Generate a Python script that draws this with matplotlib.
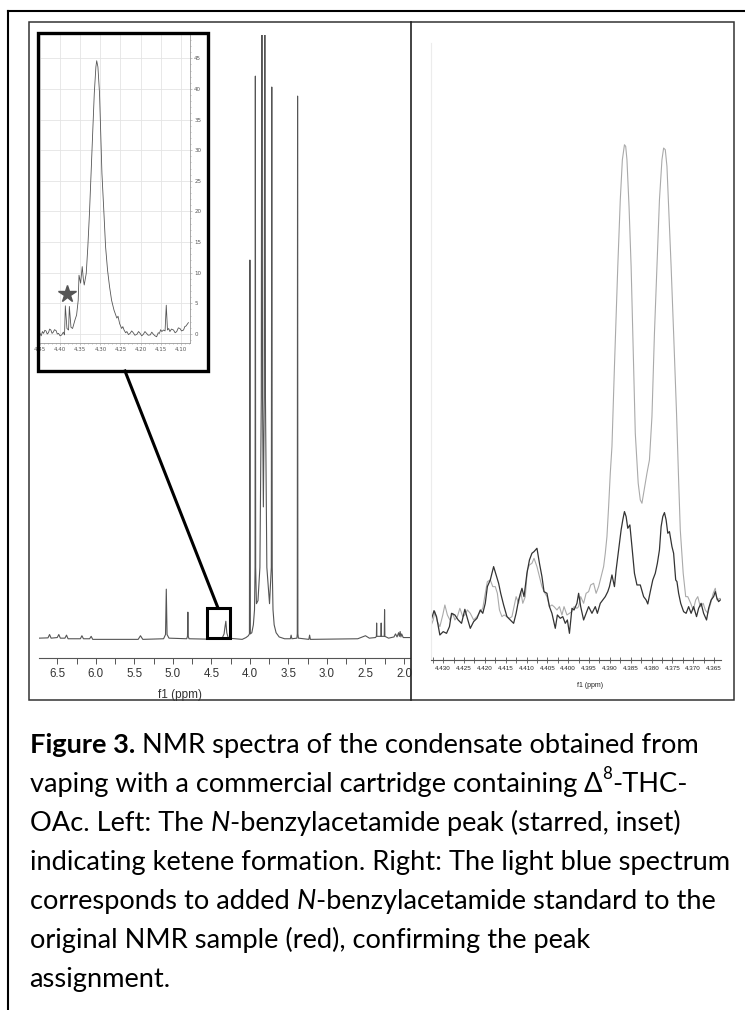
import matplotlib
matplotlib.use("Agg")
import matplotlib.pyplot as plt
from matplotlib.lines import Line2D
from matplotlib.patches import Rectangle
from matplotlib.ticker import MultipleLocator, FormatStrFormatter, FixedLocator

# ---- left panel: full 1H spectrum, vertices (ppm, rel. intensity)
main_ppm = [6.737, 6.62, 6.60, 6.58, 6.50, 6.48, 6.46, 6.40, 6.38, 6.36, 6.20, 6.18, 6.16,
            6.08, 6.06, 6.04, 5.60, 5.45, 5.42, 5.39, 5.12, 5.095, 5.085, 5.075, 5.05,
            4.82, 4.81, 4.805, 4.80, 4.79, 4.40, 4.36, 4.335, 4.325, 4.312, 4.30, 4.28,
            4.10, 4.05, 4.02, 4.006, 4.000, 3.994, 3.975, 3.955, 3.940, 3.933, 3.929,
            3.925, 3.915, 3.895, 3.870, 3.852, 3.844, 3.836, 3.825, 3.814, 3.806, 3.798,
            3.780, 3.745, 3.722, 3.716, 3.710, 3.700, 3.685, 3.660, 3.620, 3.55, 3.475,
            3.465, 3.455, 3.39, 3.385, 3.381, 3.377, 3.37, 3.235, 3.225, 3.215, 2.60,
            2.50, 2.45, 2.37, 2.358, 2.355, 2.352, 2.299, 2.296, 2.293, 2.256, 2.252,
            2.248, 2.20, 2.13, 2.11, 2.09, 2.07, 2.06, 2.05, 2.04, 2.03, 2.01, 1.922]
main_int = [0.3, 0.35, 0.9, 0.3, 0.4, 0.9, 0.3, 0.3, 0.8, 0.2, 0.2, 0.7, 0.2,
            0.2, 0.6, 0.1, 0.1, 0.1, 0.7, 0.1, 0.2, 0.9, 8.4, 0.9, 0.3,
            0.2, 0.6, 4.6, 0.6, 0.2, 0.1, 0.3, 1.0, 2.0, 3.1, 1.2, 0.3,
            0.1, 0.4, 0.7, 1.0, 62.8, 1.0, 1.2, 2.5, 5.0, 12.0, 93.2,
            12.0, 6.0, 6.5, 12.0, 40.0, 130.0, 40.0, 22.0, 40.0, 130.0, 40.0,
            12.0, 6.0, 12.0, 91.4, 12.0, 5.0, 2.5, 1.2, 0.5, 0.2, 0.2,
            0.8, 0.2, 0.3, 1.0, 89.9, 1.0, 0.3, 0.1, 0.8, 0.1, 0.2,
            0.7, 0.3, 0.4, 0.6, 2.8, 0.6, 0.6, 2.8, 0.6, 0.6, 5.0,
            0.6, 0.3, 0.5, 1.0, 0.5, 1.2, 0.6, 1.4, 0.5, 1.0, 0.4, 0.4]
main_ticks = [6.5, 6.0, 5.5, 5.0, 4.5, 4.0, 3.5, 3.0, 2.5, 2.0]

# ---- inset: 4.45-4.08 ppm region
inset_ppm = [4.450, 4.447, 4.444, 4.441, 4.438, 4.435, 4.432, 4.429, 4.426, 4.423, 4.420,
             4.417, 4.414, 4.410, 4.407, 4.404, 4.400, 4.396, 4.392, 4.389, 4.387, 4.383,
             4.379, 4.377, 4.373, 4.369, 4.366, 4.363, 4.359, 4.355, 4.353, 4.349, 4.345,
             4.342, 4.340, 4.335, 4.331, 4.327, 4.323, 4.319, 4.315, 4.311, 4.309, 4.306,
             4.302, 4.299, 4.296, 4.291, 4.287, 4.282, 4.277, 4.272, 4.266, 4.259, 4.256,
             4.252, 4.247, 4.244, 4.241, 4.237, 4.234, 4.230, 4.226, 4.222, 4.218, 4.214,
             4.209, 4.205, 4.201, 4.197, 4.193, 4.189, 4.185, 4.181, 4.176, 4.172, 4.168,
             4.164, 4.160, 4.156, 4.153, 4.150, 4.147, 4.143, 4.139, 4.136, 4.133, 4.130,
             4.127, 4.123, 4.118, 4.114, 4.110, 4.106, 4.102, 4.098, 4.093, 4.090, 4.087,
             4.081]
inset_int = [0.1, -0.3, 0.4, 0.1, 0.6, 0.5, 0.0, 0.2, 0.8, 0.65, 0.1,
             0.3, 0.7, 0.55, 0.0, 0.1, -0.3, -0.15, 0.3, -0.15, 4.6, 0.9,
             0.65, 4.5, 1.1, 0.9, 1.6, 2.3, 3.1, 5.5, 9.6, 8.3, 11.0,
             8.8, 8.0, 9.9, 14.3, 19.7, 26.2, 32.8, 39.3, 43.6, 44.6, 43.6,
             39.3, 32.8, 26.2, 19.7, 14.3, 10.4, 7.7, 5.5, 3.9, 2.6, 2.9,
             1.7, 0.9, 1.2, 0.65, 0.2, 0.4, -0.1, 0.1, 0.5, 0.2, -0.2,
             -0.05, 0.4, 0.1, -0.3, -0.05, 0.4, 0.1, -0.2, -0.15, 0.3, -0.05,
             -0.3, -0.45, 0.2, 0.1, 0.7, 0.4, 0.65, 0.5, 4.7, 0.65, 0.9,
             0.4, 0.8, 0.65, 0.2, 0.4, 1.0, 0.9, 0.5, 0.65, 1.2, 1.3,
             1.85]
inset_xticks = [4.45, 4.40, 4.35, 4.30, 4.25, 4.20, 4.15, 4.10]
inset_yticks = [0, 5, 10, 15, 20, 25, 30, 35, 40, 45]
star_ppm, star_int = 4.383, 6.6

# ---- right panel: original sample (dark) and with added standard (light)
orig_ppm = [4.4330, 4.4322, 4.4316, 4.4308, 4.4300, 4.4292, 4.4285, 4.4280, 4.4272, 4.4264,
            4.4256, 4.4248, 4.4242, 4.4235, 4.4227, 4.4219, 4.4211, 4.4205, 4.4199, 4.4194,
            4.4187, 4.4179, 4.4173, 4.4167, 4.4162, 4.4155, 4.4147, 4.4139, 4.4131, 4.4125,
            4.4119, 4.4111, 4.4106, 4.4099, 4.4093, 4.4087, 4.4082, 4.4075, 4.4069, 4.4063,
            4.4058, 4.4051, 4.4045, 4.4039, 4.4031, 4.4026, 4.4019, 4.4013, 4.4007, 4.4002,
            4.3997, 4.3991, 4.3986, 4.3979, 4.3975, 4.3970, 4.3963, 4.3957, 4.3951, 4.3943,
            4.3935, 4.3930, 4.3923, 4.3917, 4.3911, 4.3905, 4.3901, 4.3895, 4.3889, 4.3885,
            4.3879, 4.3873, 4.3869, 4.3865, 4.3861, 4.3857, 4.3852, 4.3847, 4.3841, 4.3835,
            4.3827, 4.3819, 4.3813, 4.3809, 4.3803, 4.3797, 4.3791, 4.3786, 4.3781, 4.3777,
            4.3773, 4.3769, 4.3765, 4.3761, 4.3757, 4.3751, 4.3747, 4.3742, 4.3739, 4.3735,
            4.3730, 4.3723, 4.3717, 4.3711, 4.3705, 4.3699, 4.3692, 4.3687, 4.3681, 4.3675,
            4.3668, 4.3663, 4.3657, 4.3651, 4.3647, 4.3643, 4.3639, 4.3635]
orig_int = [-2.5, 0.8, -1.0, -6.5, -5.5, -6.0, -4.0, 0.0, -0.5, -2.0,
            -3.0, 1.2, -1.5, -4.5, -2.5, -1.5, 1.0, 0.0, 3.0, 8.0,
            10.0, 14.0, 11.5, 9.0, 6.0, 2.5, -1.0, -2.0, -3.0, 0.0,
            4.0, 7.5, 5.0, 12.0, 16.0, 18.0, 18.5, 19.5, 15.0, 11.0,
            6.5, 6.0, 2.0, 0.0, -4.5, -0.5, -1.5, -1.0, -3.0, -2.0,
            -6.0, 1.5, 1.0, 3.0, 6.0, 2.0, -2.0, 0.0, 2.0, 0.0,
            2.0, 0.0, 3.0, 4.0, 5.0, 6.5, 8.0, 11.5, 8.0, 13.0,
            19.0, 25.0, 28.0, 30.5, 29.0, 25.5, 26.5, 20.0, 12.0, 8.5,
            8.5, 5.0, 4.0, 2.8, 6.5, 10.0, 12.0, 15.0, 19.0, 26.0,
            29.0, 30.2, 28.0, 24.0, 24.5, 20.0, 18.0, 10.0, 9.5, 6.0,
            3.0, 0.5, 0.0, 2.0, 0.0, 2.0, -1.0, 1.5, 3.0, 0.0,
            -2.0, 1.5, 4.0, 5.0, 6.5, 4.5, 3.5, 4.0]
spiked_ppm = [4.4330, 4.4324, 4.4320, 4.4314, 4.4308, 4.4301, 4.4296, 4.4290, 4.4284, 4.4277,
              4.4272, 4.4266, 4.4260, 4.4253, 4.4248, 4.4242, 4.4235, 4.4227, 4.4219, 4.4211,
              4.4205, 4.4199, 4.4194, 4.4187, 4.4181, 4.4175, 4.4170, 4.4165, 4.4159, 4.4154,
              4.4147, 4.4141, 4.4135, 4.4130, 4.4125, 4.4119, 4.4114, 4.4109, 4.4103, 4.4098,
              4.4093, 4.4087, 4.4082, 4.4075, 4.4069, 4.4063, 4.4058, 4.4051, 4.4045, 4.4039,
              4.4034, 4.4027, 4.4021, 4.4015, 4.4010, 4.4003, 4.3997, 4.3991, 4.3986, 4.3979,
              4.3975, 4.3970, 4.3963, 4.3957, 4.3951, 4.3946, 4.3939, 4.3933, 4.3927, 4.3921,
              4.3915, 4.3911, 4.3907, 4.3903, 4.3899, 4.3895, 4.3889, 4.3881, 4.3875, 4.3870,
              4.3865, 4.3862, 4.3859, 4.3854, 4.3849, 4.3844, 4.3839, 4.3832, 4.3827, 4.3823,
              4.3819, 4.3811, 4.3805, 4.3799, 4.3793, 4.3787, 4.3781, 4.3775, 4.3771, 4.3767,
              4.3763, 4.3759, 4.3753, 4.3747, 4.3740, 4.3735, 4.3731, 4.3724, 4.3718, 4.3713,
              4.3706, 4.3700, 4.3694, 4.3689, 4.3683, 4.3676, 4.3671, 4.3665, 4.3658, 4.3652,
              4.3647, 4.3643, 4.3636, 4.3633]
spiked_int = [-4.0, -2.0, 0.5, -2.5, -4.0, -0.5, 2.5, -0.5, -2.0, 0.0,
              -2.0, -1.0, 1.5, -1.0, -0.5, 1.0, 0.0, -2.0, -1.0, 0.5,
              1.5, 6.0, 9.5, 10.0, 8.0, 8.0, 6.0, 1.0, -1.0, -0.5,
              -1.0, -1.5, -1.0, 2.0, 5.0, 3.0, 6.5, 3.0, 5.0, 13.0,
              14.5, 15.0, 16.5, 14.0, 11.0, 8.0, 6.5, 5.0, 2.0, 2.5,
              2.0, 1.0, 2.0, -0.5, 2.0, -0.5, 0.0, 0.5, 2.0, 1.5,
              2.0, 5.0, 3.0, 6.0, 6.5, 8.5, 9.0, 6.0, 8.0, 11.0,
              14.0, 18.0, 23.0, 32.0, 42.0, 50.0, 74.0, 104.0, 124.0, 136.0,
              140.5, 140.0, 136.0, 122.0, 104.0, 79.0, 54.0, 39.0, 34.0, 33.0,
              36.0, 42.0, 46.0, 59.0, 84.0, 104.0, 124.0, 136.0, 139.5, 139.0,
              134.0, 122.0, 104.0, 84.0, 60.0, 40.0, 25.0, 12.0, 5.0, 5.0,
              3.0, 1.0, 4.0, 5.0, 2.0, 3.0, 1.0, 0.0, 3.0, 6.0,
              7.5, 4.0, 4.5, 4.2]
right_ticks = [4.430, 4.425, 4.420, 4.415, 4.410, 4.405, 4.400, 4.395, 4.390,
               4.385, 4.380, 4.375, 4.370, 4.365]

caption = [
    [("Figure 3.", "bold"), (" NMR spectra of the condensate obtained from", "normal")],
    [("vaping with a commercial cartridge containing ", "normal"), ("\u0394", "normal"),
     ("8", "sup"), ("-THC-", "normal")],
    [("OAc. Left: The ", "normal"), ("N", "italic"),
     ("-benzylacetamide peak (starred, inset)", "normal")],
    [("indicating ketene formation. Right: The light blue spectrum", "normal")],
    [("corresponds to added ", "normal"), ("N", "italic"),
     ("-benzylacetamide standard to the", "normal")],
    [("original NMR sample (red), confirming the peak", "normal")],
    [("assignment.", "normal")],
]

W, H = 745, 1010
fig = plt.figure(figsize=(W / 100, H / 100), dpi=100)
TICK_FONT = ["Liberation Sans Narrow", "Liberation Sans", "DejaVu Sans"]
CAP_FONT = ["Lato", "DejaVu Sans"]


def fx(px):
    return px / W


def fy(py):
    return 1 - py / H


def pbox(x0, y0, x1, y1):
    return [fx(x0), fy(y1), fx(x1) - fx(x0), fy(y0) - fy(y1)]


# left main spectrum
ax = fig.add_axes(pbox(39, 35, 410, 658))
ax.plot(main_ppm, main_int, color="#555555", lw=0.8)
ax.set_xlim(6.737, 1.922)
ax.set_ylim(-2.98, 100)
for s in ["top", "left", "right"]:
    ax.spines[s].set_visible(False)
ax.spines["bottom"].set_color("#555555")
ax.spines["bottom"].set_linewidth(0.8)
ax.set_yticks([])
ax.xaxis.set_major_locator(FixedLocator(main_ticks))
ax.xaxis.set_minor_locator(MultipleLocator(0.25))
ax.xaxis.set_major_formatter(FormatStrFormatter("%.1f"))
ax.tick_params(axis="x", which="both", length=4, width=0.7, color="#555555",
               labelsize=8.3, labelcolor="#333333", pad=3.5)
for lab in ax.get_xticklabels():
    lab.set_family(TICK_FONT)
ax.text(0.38, -0.05, "f1 (ppm)", transform=ax.transAxes, ha="center", va="top",
        fontsize=8.5, color="#333333", family=TICK_FONT)

# inset
ai = fig.add_axes(pbox(40, 35, 190, 343))
ai.plot(inset_ppm, inset_int, color="#555555", lw=0.6)
ai.plot([star_ppm], [star_int], marker="*", ms=13, color="#555555", ls="none")
ai.set_xlim(4.450, 4.077)
ai.set_ylim(-1.47, 48.8)
ai.set_xticks(inset_xticks)
ai.set_yticks(inset_yticks)
ai.xaxis.set_major_formatter(FormatStrFormatter("%.2f"))
ai.yaxis.set_minor_locator(MultipleLocator(1))
ai.xaxis.set_minor_locator(MultipleLocator(0.01))
ai.yaxis.tick_right()
ai.grid(True, color="#e4e4e4", lw=0.6)
ai.set_axisbelow(True)
for s in ["top", "left"]:
    ai.spines[s].set_visible(False)
for s in ["bottom", "right"]:
    ai.spines[s].set_color("#999999")
    ai.spines[s].set_linewidth(0.6)
ai.tick_params(which="both", length=1.5, width=0.4, color="#999999",
               labelsize=4, labelcolor="#555555", pad=1.5)
ai.tick_params(which="minor", length=1)

# right panel
ar = fig.add_axes(pbox(430.7, 43, 720.7, 660))
ar.plot(spiked_ppm, spiked_int, color="#aaaaaa", lw=0.8)
ar.plot(orig_ppm, orig_int, color="#333333", lw=0.9)
ar.set_xlim(4.4330, 4.3634)
ar.set_ylim(-14, 171)
for s in ["top", "right"]:
    ar.spines[s].set_visible(False)
ar.spines["left"].set_color("#ececec")
ar.spines["bottom"].set_color("#555555")
ar.spines["bottom"].set_linewidth(0.8)
ar.set_yticks([])
ar.xaxis.set_major_locator(FixedLocator(right_ticks))
ar.xaxis.set_minor_locator(MultipleLocator(0.0025))
ar.xaxis.set_major_formatter(FormatStrFormatter("%.3f"))
ar.tick_params(axis="x", which="both", direction="inout", length=4, width=0.6,
               color="#555555", labelsize=4.5, labelcolor="#222222", pad=2.5)
for lab in ar.get_xticklabels():
    lab.set_family(TICK_FONT)
ar.text(0.55, -0.036, "f1 (ppm)", transform=ar.transAxes, ha="center", va="top",
        fontsize=5, color="#222222", family=TICK_FONT)

# frames and zoom marker
tf = fig.transFigure
fig.add_artist(Line2D([fx(8), fx(745)], [fy(11), fy(11)], color="black", lw=1.5))
fig.add_artist(Line2D([fx(8), fx(8)], [fy(11), fy(1010)], color="black", lw=1.5))
fig.add_artist(Rectangle((fx(29), fy(700)), fx(734) - fx(29), fy(22) - fy(700),
                         fill=False, ec="#333333", lw=1.1, transform=tf))
fig.add_artist(Line2D([fx(411), fx(411)], [fy(22), fy(700)], color="#222222", lw=1.2))
fig.add_artist(Rectangle((fx(38), fy(371)), fx(208) - fx(38), fy(33) - fy(371),
                         fill=False, ec="black", lw=2.4, transform=tf))
fig.add_artist(Rectangle((fx(207), fy(638)), fx(230) - fx(207), fy(608) - fy(638),
                         fill=False, ec="black", lw=2.2, transform=tf))
fig.add_artist(Line2D([fx(125), fx(218)], [fy(371), fy(608)], color="black", lw=2.2))

# caption with mixed styles
renderer = fig.canvas.get_renderer()


def style_kw(kind, fs):
    kw = dict(family=CAP_FONT, fontsize=fs, color="black")
    if kind == "bold":
        kw["weight"] = "bold"
    elif kind == "italic":
        kw["style"] = "italic"
    elif kind == "sup":
        kw["fontsize"] = fs * 0.62
    return kw


def run_width(s, kw):
    a = fig.text(0, 0, "|" + s + "|", **kw)
    b = fig.text(0, 0, "||", **kw)
    w = a.get_window_extent(renderer).width - b.get_window_extent(renderer).width
    a.remove()
    b.remove()
    return w


fs0 = 15.0
w0 = sum(run_width(s, style_kw(k, fs0)) for s, k in caption[3])
fs = fs0 * 704 / w0

for i, line in enumerate(caption):
    base = 753 + 39 * i
    x = 29.6
    for s, kind in line:
        kw = style_kw(kind, fs)
        lift = fs * 0.48 * 100 / 72 if kind == "sup" else 0
        fig.text(fx(x), fy(base - lift), s, ha="left", va="baseline", **kw)
        x += run_width(s, kw)

fig.savefig("out.png", dpi=100, facecolor="white")
